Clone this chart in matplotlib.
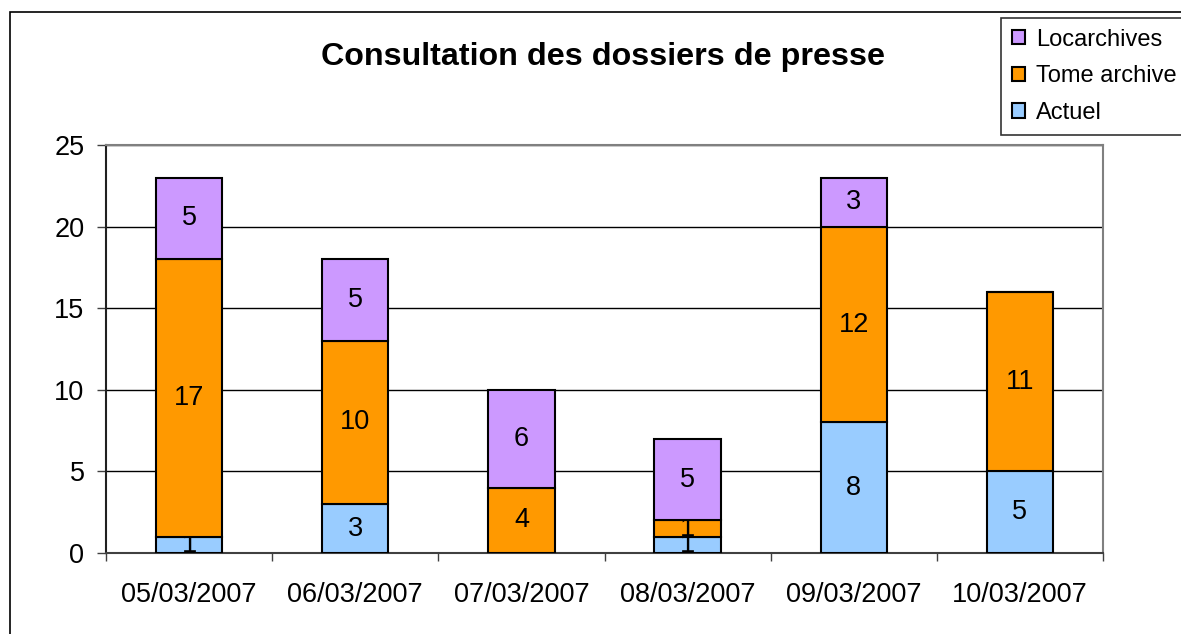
import matplotlib
matplotlib.use("Agg")
import matplotlib.pyplot as plt
import numpy as np
from matplotlib.patches import Rectangle

plt.rcParams['font.family'] = ['Liberation Sans', 'DejaVu Sans']

categories = ["05/03/2007", "06/03/2007", "07/03/2007", "08/03/2007", "09/03/2007", "10/03/2007"]
actuel = [1, 3, 0, 1, 8, 5]
tome_archive = [17, 10, 4, 1, 12, 11]
locarchives = [5, 5, 6, 5, 3, 0]
series_names = ["Actuel", "Tome archive", "Locarchives"]
series_colors = ["#99CCFF", "#FF9900", "#CC99FF"]
title = "Consultation des dossiers de presse"

W, H = 1181, 634
fig = plt.figure(figsize=(W / 100, H / 100), dpi=100)

# outer chart frame
fig.add_artist(Rectangle((10 / W, -0.1), 1.2, 1 - 12 / H + 0.1, transform=fig.transFigure,
                         fill=False, edgecolor="black", linewidth=1.2))

ax = fig.add_axes([106 / W, 1 - 553 / H, 997 / W, 408 / H])
x = np.arange(len(categories))
bottom = np.zeros(len(categories))
for i, (name, vals, col) in enumerate(zip(series_names, [actuel, tome_archive, locarchives], series_colors)):
    vals = np.array(vals, dtype=float)
    ax.bar(x, vals, bottom=bottom, width=0.4, color=col, edgecolor="black",
           linewidth=1.5, label=name, zorder=3 + 2 * i)
    for xi, v, b in zip(x, vals, bottom):
        if v > 0:
            ax.text(xi, b + v / 2, f"{int(v)}", ha="center", va="center",
                    fontsize=19.5, zorder=4 + 2 * i)
    bottom += vals

ax.set_xlim(-0.5, len(categories) - 0.5)
ax.set_ylim(0, 25)
ax.set_yticks([0, 5, 10, 15, 20, 25])
ax.yaxis.grid(True, color="black", linewidth=1.0, zorder=1)
ax.set_axisbelow(True)
ax.set_xticks(x)
ax.set_xticklabels(categories, fontsize=19.5)
ax.set_xticks(np.arange(-0.5, len(categories)), minor=True)
ax.tick_params(axis="x", which="major", length=0, pad=21)
ax.tick_params(axis="x", which="minor", length=6, width=1, color="#404040")
ax.tick_params(axis="y", labelsize=19.5, length=6.5, width=1, color="#404040", pad=9)

ax.spines["left"].set_color("#202020")
ax.spines["bottom"].set_color("#404040")
ax.spines["top"].set_color("#808080")
ax.spines["right"].set_color("#808080")
for s in ax.spines.values():
    s.set_linewidth(1.5)

fig.text(603 / W, 1 - 57 / H, title, ha="center", va="center", fontsize=23.2, fontweight="bold")

handles, labels = ax.get_legend_handles_labels()
leg = fig.legend(handles[::-1], labels[::-1], loc="upper left",
                 bbox_to_anchor=(1001 / W, 1 - 18 / H), fontsize=17,
                 frameon=True, fancybox=False, edgecolor="black",
                 handlelength=0.55, handleheight=0.55, handletextpad=0.5,
                 labelspacing=0.62, borderpad=0.45, borderaxespad=0)
leg.get_frame().set_linewidth(1.2)

fig.savefig("out.png", dpi=100)
